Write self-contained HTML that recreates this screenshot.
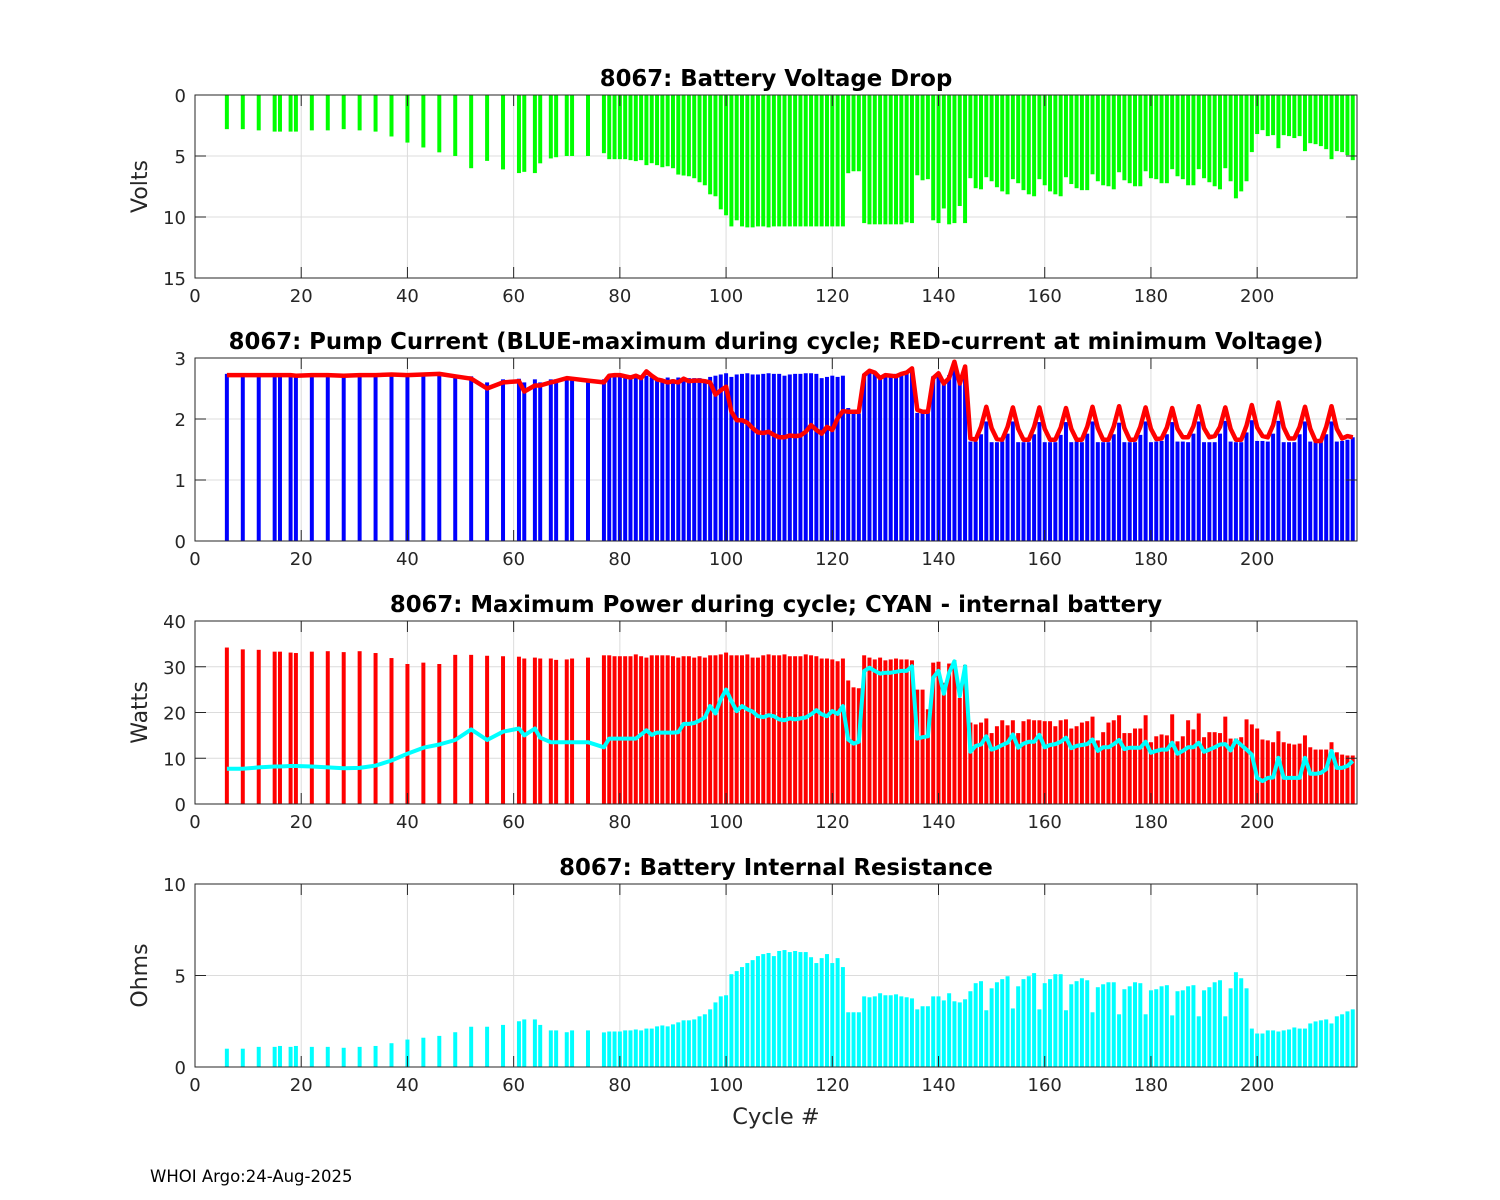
<!DOCTYPE html>
<html><head><meta charset="utf-8"><style>
html,body{margin:0;padding:0;background:#fff;}
svg{display:block;font-family:"DejaVu Sans","Liberation Sans",sans-serif;}
</style></head><body>
<svg id="chart" width="1500" height="1200" viewBox="0 0 1500 1200" xmlns="http://www.w3.org/2000/svg">
<rect width="1500" height="1200" fill="#fff"/>
<text x="776" y="1124" font-size="22.5" text-anchor="middle" fill="#262626">Cycle #</text>
<text x="150" y="1182" font-size="16.5" fill="#000">WHOI Argo:24-Aug-2025</text>
</svg>
<script>
const early = [6,9,12,15,16,18,19,22,25,28,31,34,37,40,43,46,49,52,55,58,61,62,64,65,67,68,70,71,74];
const cycles = early.slice();
for (let c = 77; c <= 218; c++) cycles.push(c);

const voltDrop = [2.8,2.8,2.9,3.0,3.0,3.0,3.0,2.9,2.9,2.8,2.9,3.0,3.4,3.9,4.3,4.7,5.0,6.0,5.4,6.1,6.4,6.3,6.4,5.6,5.2,5.1,5.0,5.0,5.0,
4.77,5.26,5.26,5.26,5.26,5.34,5.42,5.34,5.75,5.59,5.75,5.92,5.84,6.0,
6.52,6.6,6.66,6.82,7.15,7.4,8.14,8.3,9.37,9.86,
10.77,10.27,10.77,10.85,10.85,10.77,10.77,10.85,10.77,10.77,
10.77,10.77,10.77,10.77,10.77,10.77,10.77,10.77,10.77,10.77,
10.77,10.77,6.41,6.25,6.25,
10.5,10.6,10.6,10.6,10.6,10.6,10.6,10.6,10.44,10.5,
6.58,6.99,6.9,10.27,10.5,9.3,10.6,10.5,9.1,10.5,6.82,7.64,
7.73,6.74,7.07,7.56,7.9,8.14,6.9,7.23,7.8,8.14,8.3,6.9,7.4,7.9,8.14,8.3,6.74,7.3,7.64,7.8,7.8,6.5,7.07,7.4,7.48,7.73,6.33,6.99,7.23,7.48,7.48,6.25,6.82,6.9,7.23,7.23,6.08,6.66,6.9,7.4,7.4,6.08,6.82,7.15,7.48,7.73,6.0,7.07,8.47,7.9,7.07,4.68,3.2,2.88,3.37,3.29,4.36,3.29,3.37,3.53,3.37,4.6,3.95,4.03,4.19,4.44,5.26,4.6,4.68,4.93,5.34];

const maxCurrent = [2.74,2.74,2.74,2.74,2.74,2.73,2.73,2.72,2.72,2.72,2.72,2.73,2.73,2.73,2.73,2.74,2.72,2.7,2.6,2.65,2.66,2.6,2.65,2.6,2.65,2.65,2.65,2.65,2.62,
2.65,2.71,2.71,2.71,2.69,2.69,2.69,2.68,2.71,2.68,2.65,2.65,2.68,2.65,
2.68,2.67,2.67,2.67,2.67,2.64,2.69,2.71,2.73,2.75,
2.69,2.73,2.74,2.75,2.73,2.73,2.74,2.75,2.74,2.74,
2.71,2.73,2.74,2.74,2.75,2.75,2.74,2.67,2.69,2.71,
2.69,2.71,2.18,2.09,2.09,
2.74,2.78,2.76,2.7,2.74,2.73,2.74,2.76,2.78,2.8,
2.1,2.1,2.1,2.7,2.75,2.6,2.72,2.92,2.6,2.82,1.63,1.63,
1.75,1.96,1.62,1.62,1.63, 1.76,1.96,1.62,1.62,1.62, 1.75,1.95,1.62,1.62,1.62, 1.74,1.95,1.62,1.63,1.62,
1.76,1.96,1.62,1.62,1.62, 1.75,1.94,1.62,1.62,1.62, 1.74,1.96,1.62,1.63,1.64, 1.75,1.95,1.63,1.63,1.62,
1.76,1.96,1.62,1.62,1.62, 1.76,1.97,1.63,1.62,1.62, 1.78,1.98,1.64,1.64,1.63, 1.76,1.97,1.62,1.62,1.62,
1.75,1.96,1.63,1.62,1.62, 1.75,1.96,1.63,1.64,1.66, 1.70];

const minVCurrent = [2.72,2.72,2.72,2.72,2.72,2.72,2.71,2.72,2.72,2.71,2.72,2.72,2.73,2.72,2.73,2.74,2.7,2.66,2.5,2.6,2.62,2.45,2.55,2.55,2.6,2.62,2.67,2.66,2.63,
2.6,2.71,2.72,2.72,2.7,2.68,2.71,2.67,2.78,2.71,2.65,2.63,2.6,2.62,
2.6,2.66,2.62,2.63,2.63,2.62,2.6,2.4,2.47,2.53,
2.12,1.98,1.98,1.94,1.85,1.78,1.77,1.79,1.74,1.7,
1.7,1.73,1.72,1.73,1.79,1.9,1.82,1.76,1.87,1.82,
2.01,2.13,2.12,2.12,2.12,
2.72,2.79,2.76,2.67,2.72,2.71,2.7,2.74,2.76,2.83,
2.15,2.12,2.12,2.67,2.75,2.58,2.67,2.94,2.58,2.86,1.68,1.66,
1.87,2.2,1.85,1.67,1.66, 1.87,2.19,1.84,1.66,1.66, 1.87,2.19,1.84,1.66,1.66, 1.86,2.18,1.84,1.66,1.66,
1.87,2.2,1.85,1.66,1.66, 1.88,2.21,1.85,1.66,1.66, 1.87,2.19,1.84,1.67,1.68, 1.86,2.18,1.84,1.7,1.7,
1.88,2.21,1.85,1.7,1.72, 1.87,2.19,1.84,1.66,1.66, 1.89,2.23,1.86,1.72,1.7, 1.9,2.27,1.86,1.68,1.68,
1.87,2.2,1.84,1.64,1.64, 1.87,2.21,1.84,1.68,1.72, 1.70];

const maxPower = [34.2,33.8,33.7,33.3,33.3,33.1,33.0,33.3,33.4,33.2,33.4,33.0,31.9,30.6,30.9,30.6,32.6,32.6,32.4,32.3,32.2,31.8,32.0,31.8,31.8,31.5,31.6,31.8,32.0,
32.5,32.5,32.3,32.3,32.3,32.3,32.7,32.3,32.0,32.5,32.5,32.5,32.5,32.3,
32.0,32.3,32.3,32.0,32.3,32.0,32.5,32.5,32.7,33.1,
32.5,32.5,32.5,32.7,32.0,32.0,32.5,32.7,32.5,32.5,
32.7,32.3,32.3,32.3,32.7,32.5,32.3,31.8,31.8,31.6,
31.2,31.8,27.0,25.5,25.3,
32.5,32.0,31.6,32.0,31.4,31.6,31.8,31.6,31.6,31.4,
25.0,25.0,20.7,30.9,31.1,26.5,30.7,31.4,23.2,30.4,17.8,17.4,
17.8,18.7,15.5,17.0,18.3,17.2,18.3,15.5,18.1,18.5,18.3,18.3,18.1,18.1,17.0,18.3,18.5,16.5,17.0,17.8,18.1,19.1,13.9,15.7,17.8,18.3,19.4,15.5,15.5,16.5,16.5,19.4,13.5,14.8,15.2,15.0,19.6,13.7,14.8,18.3,16.3,19.8,14.6,15.7,15.7,15.5,19.1,14.3,14.3,14.6,18.5,17.4,16.5,14.1,13.9,13.5,15.9,13.5,13.2,13.0,13.2,15.0,12.4,11.9,11.9,11.9,13.5,11.3,10.8,10.6,10.6];

const internalPower = [7.7,7.7,8.0,8.2,8.2,8.3,8.3,8.2,8.0,7.8,7.9,8.4,9.5,11.0,12.3,13.0,14.0,16.3,14.0,15.8,16.5,15.0,16.5,14.5,13.5,13.5,13.5,13.5,13.5,
12.4,14.3,14.3,14.3,14.3,14.3,14.3,15.2,16.1,15.1,15.6,15.6,15.6,15.6,
15.7,17.5,17.5,17.7,18.2,18.9,21.4,19.8,22.9,25.0,
22.5,20.3,21.4,20.7,20.2,19.2,19.0,19.4,19.2,18.5,
18.3,18.7,18.5,18.7,18.9,19.6,20.5,19.6,19.2,20.3,
19.7,21.4,14.1,13.2,13.6,
29.1,29.8,29.1,28.5,28.7,28.7,28.9,29.1,29.1,30.1,
14.3,14.6,14.8,27.6,29.1,24.1,28.7,31.2,23.6,30.1,11.4,12.7,
13.0,14.8,11.9,12.3,12.9,13.4,15.2,12.3,13.2,13.6,13.6,15.1,12.4,12.9,13.1,13.6,14.5,12.2,12.7,12.9,13.1,14.1,11.6,12.4,12.4,13.1,14.0,12.0,12.3,12.3,12.3,13.6,11.2,11.6,11.9,11.9,13.4,11.0,11.6,12.4,12.4,13.4,11.4,11.9,12.4,13.0,13.1,11.7,13.9,12.9,11.9,10.8,5.7,5.0,5.7,5.8,10.1,5.7,5.7,5.7,5.7,10.1,6.6,6.6,6.8,7.6,11.6,7.9,7.9,8.3,9.4];

const resistance = [1.0,1.0,1.1,1.1,1.15,1.1,1.15,1.1,1.1,1.05,1.1,1.15,1.3,1.5,1.6,1.7,1.9,2.2,2.2,2.3,2.5,2.6,2.6,2.3,2.0,2.0,1.9,2.0,2.0,
1.89,1.94,1.94,1.94,2.0,2.0,2.05,2.0,2.1,2.1,2.22,2.27,2.22,2.33,
2.44,2.55,2.55,2.6,2.77,2.88,3.15,3.53,3.86,3.92,
5.07,5.24,5.46,5.68,5.84,6.06,6.17,6.23,6.06,6.34,
6.39,6.28,6.34,6.28,6.28,6.0,5.68,5.95,6.17,5.68,
5.95,5.46,2.99,2.99,2.99,
3.86,3.81,3.86,4.03,3.92,3.92,3.97,3.86,3.81,3.75,
3.15,3.32,3.32,3.86,3.86,3.64,4.03,3.59,3.53,3.7,4.14,4.58,
4.69,3.1,4.3,4.63,4.8,4.96,3.2,4.41,4.8,4.96,5.13,3.15,4.58,4.8,5.07,5.07,3.1,4.52,4.69,4.85,4.74,2.99,4.36,4.52,4.63,4.63,2.88,4.25,4.41,4.63,4.58,2.88,4.19,4.25,4.41,4.47,2.82,4.14,4.19,4.41,4.47,2.77,4.19,4.36,4.63,4.74,2.77,4.3,5.18,4.85,4.3,2.1,1.83,1.83,2.0,2.0,1.94,2.0,2.05,2.16,2.1,2.1,2.38,2.49,2.55,2.6,2.38,2.77,2.88,3.04,3.15];

const xTicks = [0,20,40,60,80,100,120,140,160,180,200];
const voltTicks = [0,5,10,15];
const currentTicks = [0,1,2,3];
const powerTicks = [0,10,20,30,40];
const ohmTicks = [0,5,10];

const NS = 'http://www.w3.org/2000/svg';
const svg = document.getElementById('chart');
const X0 = 195, X1 = 1357, XMAX = 218.8;
const BARW = 0.75;
function xs(v){ return X0 + (v / XMAX) * (X1 - X0); }
function mk(tag, attrs, parent){
  const e = document.createElementNS(NS, tag);
  for (const k in attrs) e.setAttribute(k, attrs[k]);
  (parent || svg).appendChild(e);
  return e;
}

function panel(o){
  const g = mk('g', {});
  
  
  const top = o.top, bot = o.top + 183;
  const ys = v => o.reverse ? top + (v - o.ymin) / (o.ymax - o.ymin) * 183 : bot - (v - o.ymin) / (o.ymax - o.ymin) * 183;
  xTicks.forEach(t => {
    const l = mk('line', {x1: xs(t), x2: xs(t), y1: top, y2: bot, stroke: '#dcdcdc', 'stroke-width': 1}, g);
    
    
  });
  o.yticks.forEach(t => {
    const l = mk('line', {x1: X0, x2: X1, y1: ys(t), y2: ys(t), stroke: '#dcdcdc', 'stroke-width': 1}, g);
    
    
  });
  o.bars.forEach(b => {
    cycles.forEach((c, i) => {
      const v = b.values[i];
      const y0 = ys(0), y1 = ys(v);
      const r = mk('rect', {x: xs(c - BARW / 2), width: xs(BARW) - X0, y: Math.min(y0, y1), height: Math.abs(y1 - y0), fill: b.color}, g);
      
      
    });
  });
  (o.lines || []).forEach(ln => {
    const pts = cycles.map((c, i) => xs(c).toFixed(1) + ',' + ys(ln.values[i]).toFixed(1)).join(' ');
    const p = mk('polyline', {points: pts, fill: 'none', stroke: ln.color, 'stroke-width': ln.width, 'stroke-linejoin': 'round'}, g);
    
    
  });
  const f = mk('rect', {x: X0, y: top, width: X1 - X0, height: 183, fill: 'none', stroke: '#262626', 'stroke-width': 1}, g);
  
  
  xTicks.forEach(t => {
    mk('line', {x1: xs(t), x2: xs(t), y1: bot, y2: bot - 11, stroke: '#262626'}, g);
    mk('line', {x1: xs(t), x2: xs(t), y1: top, y2: top + 11, stroke: '#262626'}, g);
    const tx = mk('text', {x: xs(t), y: bot + 24, 'font-size': 18, 'text-anchor': 'middle', fill: '#262626'}, g);
    tx.textContent = t;
    
    
  });
  o.yticks.forEach(t => {
    mk('line', {x1: X0, x2: X0 + 11, y1: ys(t), y2: ys(t), stroke: '#262626'}, g);
    mk('line', {x1: X1, x2: X1 - 11, y1: ys(t), y2: ys(t), stroke: '#262626'}, g);
    const tx = mk('text', {x: X0 - 9, y: ys(t) + 7, 'font-size': 18, 'text-anchor': 'end', fill: '#262626'}, g);
    tx.textContent = t;
    
    
  });
  const yl = mk('text', {x: 0, y: 0, 'font-size': 22, 'text-anchor': 'middle', fill: '#262626', transform: 'translate(147,' + (top + 91.5) + ') rotate(-90)'}, g);
  yl.textContent = o.ylabel;
  
  
  const tt = mk('text', {x: 776, y: top - 9, 'font-size': 22.8, 'font-weight': 'bold', 'text-anchor': 'middle', fill: '#000'}, g);
  tt.textContent = o.title;
  
  
}

panel({name: 'voltage-drop', top: 95, ymin: 0, ymax: 15, reverse: true, yticks: voltTicks, ylabel: 'Volts',
  title: '8067: Battery Voltage Drop', bars: [{name: 'voltage-drop', values: voltDrop, color: '#00ff00'}]});
panel({name: 'pump-current', top: 358, ymin: 0, ymax: 3, yticks: currentTicks, ylabel: '',
  title: '8067: Pump Current (BLUE-maximum during cycle; RED-current at minimum Voltage)',
  bars: [{name: 'max-current', values: maxCurrent, color: '#0000ff'}],
  lines: [{name: 'min-voltage-current', values: minVCurrent, color: '#ff0000', width: 4.5}]});
panel({name: 'max-power', top: 621, ymin: 0, ymax: 40, yticks: powerTicks, ylabel: 'Watts',
  title: '8067: Maximum Power during cycle; CYAN - internal battery',
  bars: [{name: 'max-power', values: maxPower, color: '#ff0000'}],
  lines: [{name: 'internal-battery-power', values: internalPower, color: '#00ffff', width: 4}]});
panel({name: 'internal-resistance', top: 884, ymin: 0, ymax: 10, yticks: ohmTicks, ylabel: 'Ohms',
  title: '8067: Battery Internal Resistance', bars: [{name: 'internal-resistance', values: resistance, color: '#00ffff'}]});
</script>
</body></html>
